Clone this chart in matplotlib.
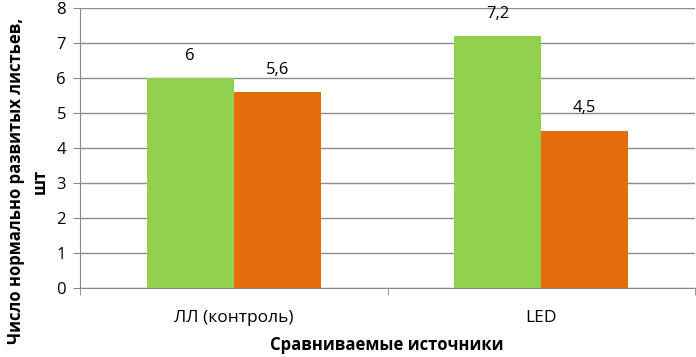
import numpy as np
import matplotlib.pyplot as plt

categories = ["ЛЛ (контроль)", "LED"]
series_green = [6, 7.2]
series_orange = [5.6, 4.5]
value_labels_green = ["6", "7,2"]
value_labels_orange = ["5,6", "4,5"]

plt.rcParams['font.family'] = ['Open Sans', 'DejaVu Sans']

fig = plt.figure(figsize=(6.96, 3.57), dpi=100)
ax = fig.add_axes([80 / 696, 69 / 357, 615 / 696, 280 / 357])

x = np.arange(len(categories))
w = 0.283
b1 = ax.bar(x - w / 2, series_green, w, color="#92D050", zorder=3)
b2 = ax.bar(x + w / 2, series_orange, w, color="#E46C0A", zorder=3)

# data labels above each bar
for bars, labels in [(b1, value_labels_green), (b2, value_labels_orange)]:
    for rect, lab in zip(bars, labels):
        ax.annotate(lab, (rect.get_x() + rect.get_width() / 2, rect.get_height()),
                    xytext=(0, 16), textcoords="offset points",
                    ha="center", va="center", fontsize=12)

ax.set_xlim(-0.5, 1.5)
ax.set_ylim(0, 8)
ax.set_yticks(range(0, 9))
ax.set_xticks(x)
ax.set_xticklabels(categories)
ax.set_xticks([-0.5, 0.5, 1.5], minor=True)
ax.tick_params(axis="x", which="major", length=0, pad=16, labelsize=12.5)
ax.tick_params(axis="x", which="minor", length=5, color="#888888")
ax.tick_params(axis="y", length=5, color="#888888", labelsize=12, pad=5)

ax.yaxis.grid(True, color="#8c8c8c", linewidth=1, zorder=0)
for s in ["top", "right"]:
    ax.spines[s].set_visible(False)
for s in ["left", "bottom"]:
    ax.spines[s].set_color("#888888")

fig.text(28 / 696, 1 - 181 / 357, "Число нормально развитых листьев,\nшт",
         rotation=90, ha="center", va="center", fontsize=12,
         fontweight="bold", linespacing=1.4, multialignment="center")
fig.text(387 / 696, 1 - 345 / 357, "Сравниваемые источники", ha="center",
         va="center", fontsize=12, fontweight="bold")

fig.savefig("out.png", dpi=100)
